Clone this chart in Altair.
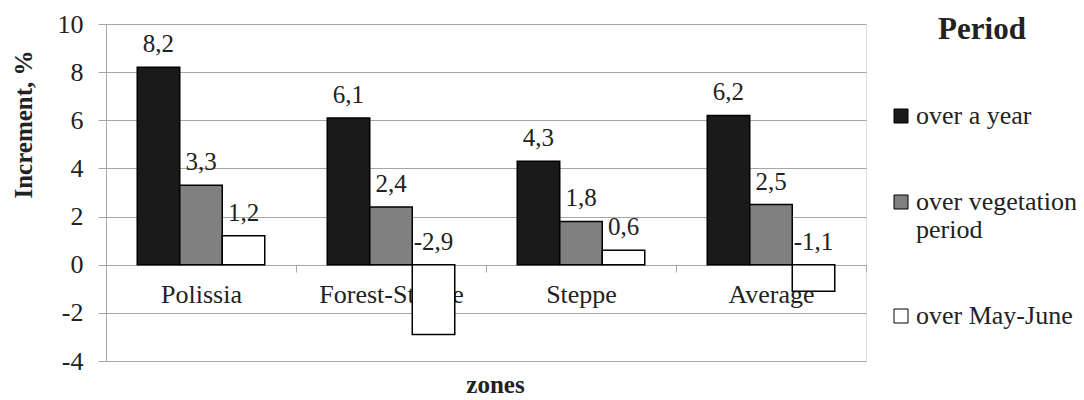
import altair as alt
import pandas as pd

zones = ["Polissia", "Forest-Steppe", "Steppe", "Average"]
periods = ["over a year", "over vegetation period", "over May-June"]
over_year = [8.2, 6.1, 4.3, 6.2]
over_vegetation = [3.3, 2.4, 1.8, 2.5]
over_may_june = [1.2, -2.9, 0.6, -1.1]
fills = ["#1a1a1a", "#808080", "#ffffff"]
y_ticks = [-4, -2, 0, 2, 4, 6, 8, 10]

rows = []
for series, vals in zip(periods, [over_year, over_vegetation, over_may_june]):
    for z, v in zip(zones, vals):
        rows.append({
            "zone": z,
            "period": series,
            "value": v,
            "label_y": max(v, 0),
            "label": f"{v:.1f}".replace(".", ","),
        })
df = pd.DataFrame(rows)

FONT = "Liberation Serif"
GRID = "#a6a6a6"

x_enc = alt.X(
    "zone:N",
    sort=zones,
    scale=alt.Scale(paddingInner=0, paddingOuter=0),
    axis=alt.Axis(
        title="zones",
        offset=-96,
        domainColor=GRID,
        domainWidth=1,
        tickColor=GRID,
        tickSize=7,
        tickBand="extent",
        labelAngle=0,
        labelPadding=9,
        labelFontSize=26,
        labelFont=FONT,
        labelColor="#222222",
        titleFont=FONT,
        titleFontSize=25,
        titleFontWeight="bold",
        titleColor="#222222",
        titlePadding=65,
        titleX=389,
        grid=False,
    ),
)
xoff = alt.XOffset("period:N", sort=periods, scale=alt.Scale(paddingInner=0, paddingOuter=0.735))

base = alt.Chart(df)

bars = base.mark_bar(stroke="#000000", strokeWidth=1.5).encode(
    x=x_enc,
    xOffset=xoff,
    y=alt.Y(
        "value:Q",
        scale=alt.Scale(domain=[-4, 10], nice=False),
        axis=alt.Axis(
            title="Increment, %",
            values=y_ticks,
            labelExpr="datum.value < 0 ? '-' + abs(datum.value) : '' + datum.value",
            grid=True,
            gridColor=GRID,
            gridWidth=1.2,
            domainColor=GRID,
            tickColor=GRID,
            tickSize=8,
            labelPadding=15,
            labelFontSize=26,
            labelFont=FONT,
            labelColor="#222222",
            titleFont=FONT,
            titleFontSize=25,
            titleFontWeight="bold",
            titleColor="#222222",
            titlePadding=21,
            titleY=100,
        ),
    ),
    fill=alt.Fill(
        "period:N",
        sort=periods,
        scale=alt.Scale(domain=periods, range=fills),
        legend=alt.Legend(
            title="Period",
            orient="none",
            legendX=782,
            legendY=-9,
            padding=0,
            titleFont=FONT,
            titleFontSize=31,
            titleFontWeight="bold",
            titleColor="#222222",
            titleAnchor="middle",
            titlePadding=57,
            labelFont=FONT,
            labelFontSize=26,
            labelColor="#222222",
            labelLimit=300,
            labelExpr="datum.label == 'over vegetation period' ? ['over vegetation', 'period'] : datum.label",
            symbolType="square",
            symbolSize=196,
            symbolStrokeColor="#000000",
            symbolStrokeWidth=1,
            labelOffset=2,
            rowPadding=60,
        ),
    ),
)

labels = base.mark_text(
    font=FONT, fontSize=25, color="#222222", baseline="alphabetic", dy=-15
).encode(
    x=alt.X("zone:N", sort=zones),
    xOffset=alt.XOffset("period:N", sort=periods),
    y=alt.Y("label_y:Q"),
    text="label:N",
)

chart = (
    alt.layer(bars, labels)
    .properties(
        width=760,
        height=337,
        autosize="none",
        padding={"left": 98, "top": 16, "right": 210, "bottom": 60},
    )
    .configure_view(stroke=None)
    .configure(background="#ffffff")
)

chart.save("out.html", embed_options={"renderer": "svg", "actions": False})
